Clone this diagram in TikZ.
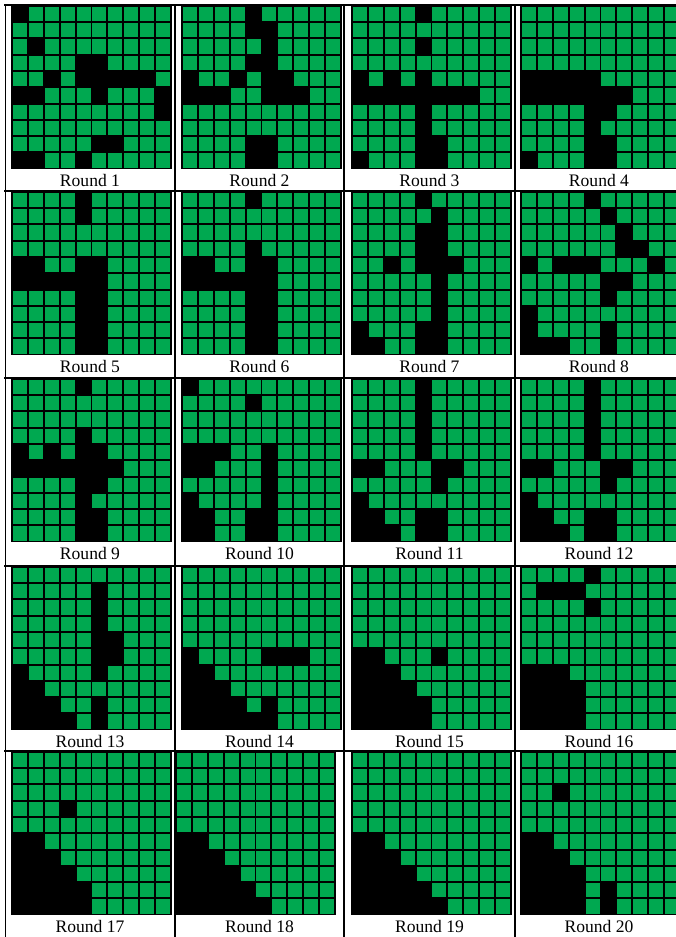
\documentclass[tikz,border=0pt]{standalone}
\usepackage{fontspec}
\setmainfont{Liberation Serif}
\usepackage{xcolor}
\definecolor{cellgreen}{RGB}{0,168,80}

% one row of a board: a 0 is a green cell, a 1 stays black
\newcommand\greenrow[3]{\def\gcx{#1}\def\gcy{#2}\def\gcn{0}\expandafter\greenscan#3\relax}
\newcommand\greenscan[1]{%
  \ifx\relax#1\else
    \ifnum#1=0 \fill[cell] ({\gcx+\gcn*15.95},{\gcy}) rectangle ++(14,14.3);\fi
    \pgfmathtruncatemacro\gcn{\gcn+1}%
    \expandafter\greenscan
  \fi}

\begin{document}
\begin{tikzpicture}[
  x=0.02cm, y=-0.02cm,
  cell/.style={fill=cellgreen},
  board/.style={fill=black},
  rule/.style={line width=0.6pt, draw=black},
  roundlbl/.style={font=\fontsize{10}{12}\selectfont, anchor=base, inner sep=0pt}
]
\useasboundingbox (0,0) rectangle (676,937);

% table rules
\foreach \ty in {5,191,378,566,751}
  \draw[rule] (4,\ty) -- (676,\ty);
\foreach \tx in {5.5,175,344,515}
  \draw[rule] (\tx,5) -- (\tx,937);

% boards: x / y / label x / round / rows
\foreach \gx/\gy/\lx/\rnd/\rows in {
  11/5/90/1/{1000000000,0000000000,0100000000,0000110000,0010111110,1100010001,0000000001,0000000000,0000011000,1100100000},
  181/5/259.5/2/{0000100000,0000110000,0000010000,0000110000,1001011000,1110011100,0000000000,0000000000,0000110000,0000110000},
  351/5/429.5/3/{0000100000,0000000000,0000100000,0000000000,1010100000,1111111100,0000100000,0000100000,0000110000,1000110000},
  520/5/599/4/{0000000000,0000000000,0000000000,0000000000,1111100000,1111111000,0000110000,0000100000,0000110000,1000110000},
  11/191/90/5/{0000100000,0000100000,0000000000,0000000000,1100110000,1111110000,0000110000,0000110000,0000110000,0000110000},
  181/191/259.5/6/{0000100000,0000000000,0000000000,0000100000,1100110000,1111110000,0000110000,0000110000,0000110000,0000110000},
  351/191/429.5/7/{0000100000,0000010000,0000110000,0000110000,0010111000,0000010000,0000010000,0000010000,1000110000,1100110000},
  520/191/599/8/{0000100000,0000010000,0000001000,0000001100,1011100010,0000011000,0000010000,1000000000,1000010000,1110010000},
  11/378/90/9/{0000100000,0000000000,0000000000,0000100000,1010110000,1111111000,0000110000,0000100000,0000110000,0000110000},
  181/378/259.5/10/{1000000000,0000100000,0000000000,0000000000,1110010000,1100010000,0000010000,1000010000,1100110000,1100110000},
  351/378/429.5/11/{0000100000,0000100000,0000100000,0000100000,0000100000,1100011000,0000010000,1000000000,1100110000,1110110000},
  520/378/599/12/{0000100000,0000100000,0000100000,0000100000,0000100000,1100011000,0000010000,1000000000,1100110000,1110110000},
  11/566/90/13/{0000000000,0000010000,0000010000,0000010000,0000011000,0000011000,1000010000,1100000000,1110010000,1111010000},
  181/566/259.5/14/{0000000000,0000000000,0000000000,0000000000,0000000000,1000011100,1100000000,1110000000,1111010000,1111110000},
  351/566/429.5/15/{0000000000,0000000000,0000000000,0000000000,0000000000,1100010000,1110000000,1111000000,1111100000,1111100000},
  520/566/599/16/{0000100000,0111000000,0000100000,0000000000,0000000000,0000000000,1110000000,1111000000,1111000000,1111000000},
  11/751/90/17/{0000000000,0000000000,0000000000,0001000000,0000000000,1100000000,1110000000,1111000000,1111100000,1111100000},
  175/751/259.5/18/{0000000000,0000000000,0000000000,0000000000,0000000000,1100000000,1110000000,1111000000,1111100000,1111110000},
  351/751/429.5/19/{0000000000,0000000000,0000000000,0000000000,0000000000,1100000000,1110000000,1111000000,1111100000,1111110000},
  520/751/599/20/{0000000000,0000000000,0010000000,0000000000,0000000000,1100000000,1110000000,1111000000,1111010000,1111010000}%
}{
  \fill[board] (\gx,\gy) rectangle ++(161.3,164.3);
  \foreach \r [count=\ri from 0] in \rows
    \greenrow{\gx+1.7}{\gy+1.7+\ri*16.3}{\r};
  \node[roundlbl] (round\rnd) at (\lx,\gy+181.5) {Round \rnd};
}

\end{tikzpicture}
\end{document}
